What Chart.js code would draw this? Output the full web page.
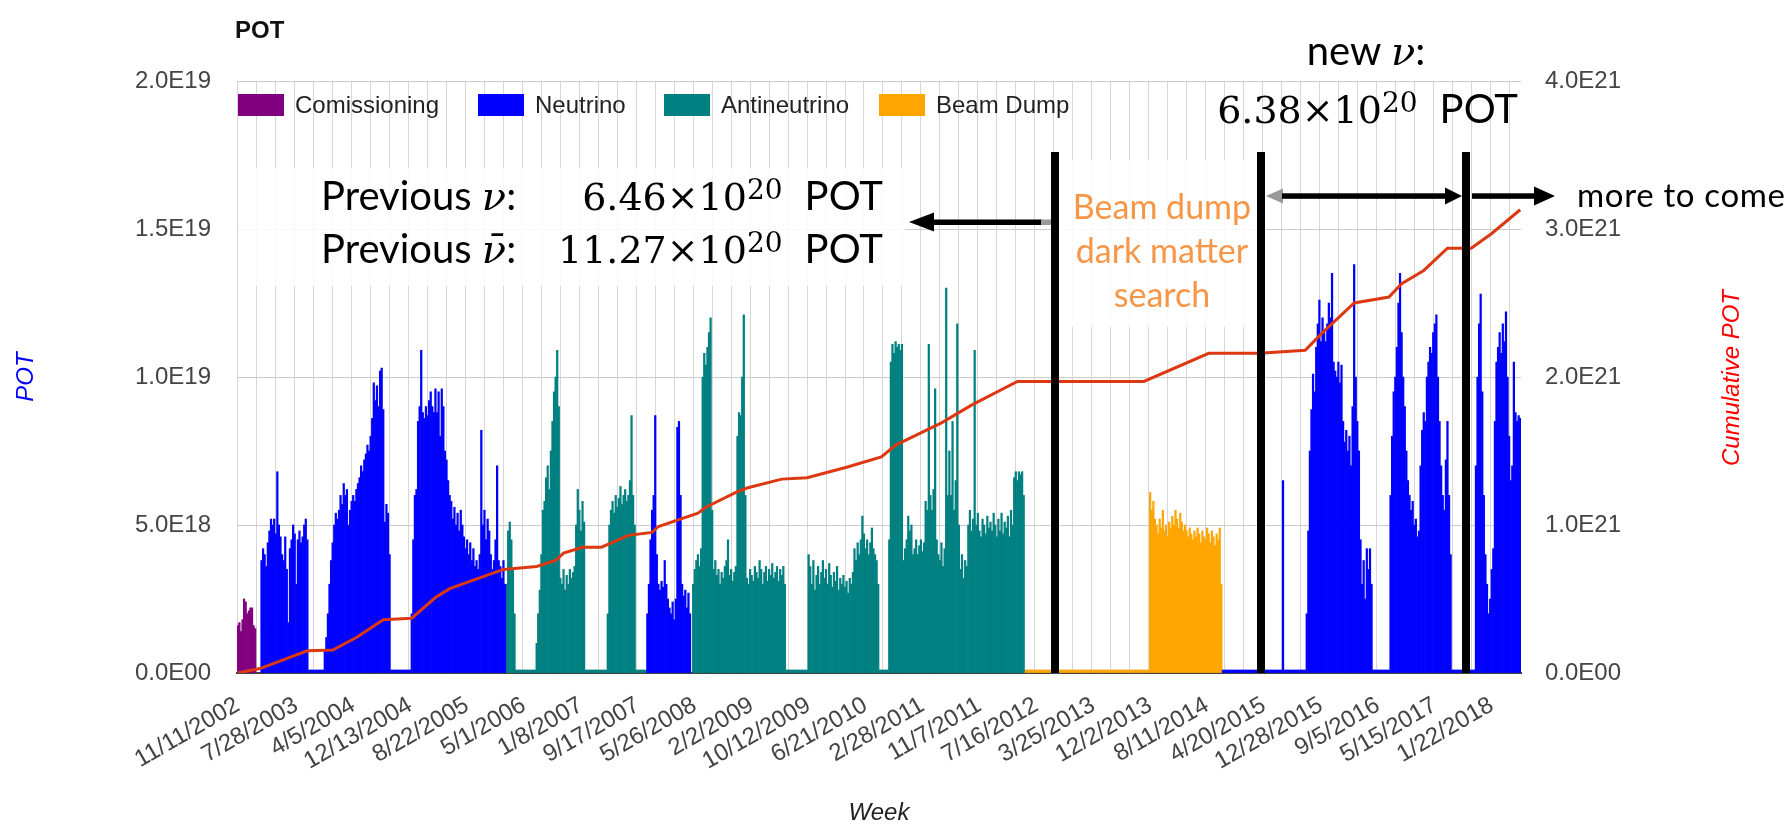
<!DOCTYPE html>
<html>
<head>
<meta charset="utf-8">
<script src="https://cdn.jsdelivr.net/npm/chart.js@4.4.1/dist/chart.umd.min.js"></script>
<style>
html,body{margin:0;padding:0;background:#ffffff;}
#wrap{position:relative;width:1792px;height:825px;overflow:hidden;}
#c{position:absolute;left:0;top:0;}
#ov{position:absolute;left:0;top:0;}
</style>
</head>
<body>
<div id="wrap">
<canvas id="c" width="1792" height="825"></canvas>
<svg id="ov" width="1792" height="825" xmlns="http://www.w3.org/2000/svg">
  <!-- top-left title -->
  <text x="235" y="38" font-family="'Liberation Sans', Arial, sans-serif" font-weight="bold" font-size="24" fill="#111">POT</text>

  <!-- translucent boxes behind annotations -->
  <rect x="238" y="168" width="667" height="118" fill="#ffffff" fill-opacity="0.86"/>
  <rect x="1059" y="160" width="198" height="167" fill="#ffffff" fill-opacity="0.86"/>

  <!-- vertical separators -->
  <rect x="1051" y="152" width="8" height="521" fill="#000"/>
  <rect x="1257" y="152" width="8" height="521" fill="#000"/>
  <rect x="1462" y="152" width="8" height="521" fill="#000"/>

  <!-- left arrow -->
  <rect x="928" y="219.5" width="114" height="5.5" fill="#000"/>
  <rect x="1041" y="219.5" width="10" height="5.5" fill="#999"/>
  <polygon points="909,222 934,212.5 934,231.5" fill="#000"/>

  <!-- middle double arrow -->
  <polygon points="1266,196 1283,188.5 1283,203.5" fill="#999"/>
  <rect x="1282" y="193.3" width="167" height="5.5" fill="#000"/>
  <polygon points="1462,196 1445,187.5 1445,204.5" fill="#000"/>

  <!-- right arrow -->
  <rect x="1472" y="193.3" width="65" height="5.5" fill="#000"/>
  <polygon points="1555,196 1534,186.5 1534,205.5" fill="#000"/>

  <!-- previous text -->
  <text x="321" y="210" font-family="Lato, sans-serif" font-size="40" fill="#000">Previous <tspan font-family="'DejaVu Serif', serif" font-style="italic">ν</tspan>:</text>
  <text x="883" y="210" text-anchor="end" font-family="'DejaVu Serif', serif" font-size="38" fill="#000">6.46×10<tspan dy="-11" font-size="28">20</tspan><tspan dy="11" dx="22" font-family="Lato, sans-serif" font-size="40">POT</tspan></text>
  <text x="321" y="263" font-family="Lato, sans-serif" font-size="40" fill="#000">Previous <tspan font-family="'DejaVu Serif', serif" font-style="italic">ν̄</tspan>:</text>
  <text x="883" y="263" text-anchor="end" font-family="'DejaVu Serif', serif" font-size="38" fill="#000">11.27×10<tspan dy="-11" font-size="28">20</tspan><tspan dy="11" dx="22" font-family="Lato, sans-serif" font-size="40">POT</tspan></text>

  <!-- beam dump text -->
  <text x="1162" y="219" text-anchor="middle" font-family="Lato, sans-serif" font-size="34" fill="#f79646">Beam dump</text>
  <text x="1162" y="263" text-anchor="middle" font-family="Lato, sans-serif" font-size="34" fill="#f79646">dark matter</text>
  <text x="1162" y="307" text-anchor="middle" font-family="Lato, sans-serif" font-size="34" fill="#f79646">search</text>

  <!-- new nu text -->
  <text x="1366" y="65" text-anchor="middle" font-family="Lato, sans-serif" font-size="40" fill="#000">new <tspan font-family="'DejaVu Serif', serif" font-style="italic">ν</tspan>:</text>
  <text x="1518" y="123" text-anchor="end" font-family="'DejaVu Serif', serif" font-size="38" fill="#000">6.38×10<tspan dy="-11" font-size="28">20</tspan><tspan dy="11" dx="22" font-family="Lato, sans-serif" font-size="40">POT</tspan></text>

  <text x="1577" y="207" font-family="Lato, sans-serif" font-size="33" textLength="208" lengthAdjust="spacing" fill="#000">more to come</text>

  <!-- right axis title -->
  <text transform="translate(1739,378) rotate(-90)" text-anchor="middle" font-family="'Liberation Sans', Arial, sans-serif" font-style="italic" font-size="24" fill="#ff0000">Cumulative POT</text>
</svg>
</div>
<script>
// ---------------- DATA ----------------
// weekly bins, week 0 = 11/11/2002; weekly POT in units of 1e17
const WEEK_COUNT = 812;
const tickWeeks = [0,37,73,109,145,181,217,253,289,325,361,397,433,469,505,541,577,613,649,685,721,757,793];
const tickLabels = ['11/11/2002','7/28/2003','4/5/2004','12/13/2004','8/22/2005','5/1/2006','1/8/2007','9/17/2007','5/26/2008','2/2/2009','10/12/2009','6/21/2010','2/28/2011','11/7/2011','7/16/2012','3/25/2013','12/2/2013','8/11/2014','4/20/2015','12/28/2015','9/5/2016','5/15/2017','1/22/2018'];
const yTickLabels = ['0.0E00','5.0E18','1.0E19','1.5E19','2.0E19'];   // left axis 0..200 (1e17)
const y2TickLabels = ['0.0E00','1.0E21','2.0E21','3.0E21','4.0E21']; // right axis 0..400 (1e19)

const seriesNames = ['Comissioning','Neutrino','Antineutrino','Beam Dump'];
const seriesColors = ['#800080','#0000ff','#008080','#ffa500'];

// [first week, weekly values]
const commissioningRuns = [
  [0,[16,17,14,18,25,24,20,21,22,22,16,15]]
];
const neutrinoRuns = [
  [15,[38,42,40,36,44,48,52,50,52,47,68,50,46,40,38,46,35,17,42,45,50,47,30,45,48,44,46,50,52,45]],
  [55,[8,12,20,30,38,44,50,54,52,55,60,57,64,60,62,50,55,58,60,58,62,64,66,70,68,72,74,77,75,80,86,98,92,97,90,102,103,89,51,57,54,40]],
  [110,[20,45,60,62,85,90,109,88,86,90,87,92,95,90,88,96,88,95,80,96,90,75,72,65,60,58,52,56,50,54,48,55,50,46,42,45,40,44,38,42,36,38,35,40,82,50,55,45,52,48,40,35,38,45,70,38,36,32,38,30]],
  [259,[20,30,45,55,60,87,40,30,28,31,29,38,30,25,22,20,24,18,25,83,85,60,30,26,28,22,27,20]],
  [661,[65]],
  [676,[20,48,75,89,101,95,110,118,126,112,120,115,112,118,125,120,135,105,102,100,105,98,104,85,78,82,75,80,70,90,138,100,85,75,45,30,38,25,42,35,42,30]],
  [729,[60,80,95,100,110,125,135,115,100,90,75,65,60,55,58,50,52,46,48,70,82,88,85,100,105,110,108,115,118,121,100,85,70,60,55,72,85,60,40]],
  [783,[70,100,118,128,95,60,40,30,20,25,35,42,85,105,110,115,108,118,112,122,100,80,65,70,105,88,85,87,86]]
];
const antineutrinoRuns = [
  [170,[30,48,51,45,35,20]],
  [189,[10,20,28,40,55,58,66,70,62,75,85,95,100,109,90,32,30,35,28,33,30,35,32,34,36,50,62,55,48,58,51]],
  [234,[20,50,55,58,54,60,56,59,63,57,60,62,58,60,65,87,60,50]],
  [288,[30,35,38,40,36,42,100,108,104,110,115,120,55,35,38,33,35,30,34,32,36,38,45,33,35,31,34,36,80,88,87,100,121,60,32,30,35,33,31,36,34,32,38,35,30,34,36,31,35,33,37,32,34,36,31,35,33,36,30]],
  [361,[40,36,30,38,28,33,36,30,34,38,32,35,30,37,33,29,34,31,36,28,32,30,33,29,31,27,32,30,34,42,38,44,40,45,53,47,42,45,40,44,49,42,40,38,30]],
  [412,[45,105,111,108,112,110,111,109,111,38,42,45,53,48,50,40,42,45,40,43,45,41,44,58,55,111,60,55,62,96,45,40,38,44,36,42,130,60,75,60,85,55,65,118,50,35,40,32,38,36,50,55,48,52,109,50,54,48,46,52,50,47,53,49,51,48,54,50,46,52,48,54,47,51,49,53,46,55,50,66,68,65,68,67,68,60]]
];
const beamDumpRuns = [
  [577,[61,55,58,52,50,47,52,49,55,48,50,46,51,49,53,50,55,52,49,54,51,48,50,48,46,49,47,45,48,46,49,47,44,48,46,45,49,47,44,48,46,43,47,45,49,30]]
];
// weeks with only a trace of beam (~1e17): [first, last]
const LOW_POT = 1;
const neutrinoLow = [[45,54],[97,109],[623,660],[662,675],[718,728],[768,782]];
const antineutrinoLow = [[176,188],[220,233],[252,258],[347,360],[406,411]];
const beamDumpLow = [[498,576]];

// cumulative POT (units of 1e19) read at these weeks
const cumWeeks = [0,14,44,60,75,92,110,125,134,168,189,201,206,218,230,247,262,266,291,296,315,322,344,360,385,407,416,445,464,493,573,614,646,675,686,706,728,736,750,765,780,793,811];
const cumPOT   = [0,3,15,15.5,24,36,37,51,57,70,72,76,81,85,85,93,95,99,108,112,122,125,131,132,139,146,154,169,181,197,197,216,216,218,230,250,254,263,272,287,287,297,313];

// layout constants (not data)
const legendBoxX = [238,478,664,879];
const FONT = "'Liberation Sans', Arial, Helvetica, sans-serif";

// ---------------- BUILD ----------------
function buildSeries(runs, lows) {
  const a = new Array(WEEK_COUNT).fill(null);
  runs.forEach(([s, vals]) => vals.forEach((v, i) => { a[s + i] = v; }));
  lows.forEach(([f, l]) => { for (let w = f; w <= l; w++) a[w] = LOW_POT; });
  return a;
}
const weekLabels = Array.from({length: WEEK_COUNT}, (_, i) => i);
const cumSeries = new Array(WEEK_COUNT).fill(null);
cumWeeks.forEach((w, i) => { cumSeries[w] = cumPOT[i]; });

const barSets = [
  buildSeries(commissioningRuns, []),
  buildSeries(neutrinoRuns, neutrinoLow),
  buildSeries(antineutrinoRuns, antineutrinoLow),
  buildSeries(beamDumpRuns, beamDumpLow)
];

const legendPlugin = {
  id: 'insideLegend',
  afterDatasetsDraw(chart) {
    const {ctx, chartArea} = chart;
    ctx.save();
    ctx.font = '24px ' + FONT;
    ctx.textBaseline = 'middle';
    ctx.textAlign = 'left';
    chart.data.datasets.filter(d => d.type !== 'line').forEach((d, i) => {
      const x = legendBoxX[i];
      ctx.fillStyle = d.backgroundColor;
      ctx.fillRect(x, chartArea.top + 13, 46, 22);
      ctx.fillStyle = '#222';
      ctx.fillText(d.label, x + 57, chartArea.top + 25);
    });
    ctx.restore();
  }
};

const datasets = [{
  type: 'line',
  label: 'Cumulative POT',
  data: cumSeries,
  yAxisID: 'y2',
  borderColor: '#dc3912',
  borderWidth: 3,
  pointRadius: 0,
  spanGaps: true,
  tension: 0,
  order: 0
}];
barSets.forEach((arr, i) => datasets.push({
  type: 'bar',
  label: seriesNames[i],
  data: arr,
  yAxisID: 'y',
  backgroundColor: seriesColors[i],
  borderWidth: 0,
  barPercentage: 1,
  categoryPercentage: 1,
  order: 1
}));

new Chart(document.getElementById('c').getContext('2d'), {
  type: 'bar',
  data: { labels: weekLabels, datasets },
  options: {
    responsive: false,
    animation: false,
    events: [],
    layout: { padding: { top: 81, left: 0, right: 0, bottom: 0 } },
    plugins: { legend: { display: false }, tooltip: { enabled: false } },
    scales: {
      x: {
        stacked: true,
        offset: true,
        grid: {
          offset: false,
          drawTicks: false,
          lineWidth: 1,
          color: (c) => (c.index % 12 === 0 ? '#d6d6d6' : 'rgba(0,0,0,0)')
        },
        border: { display: true, color: '#444', width: 2 },
        ticks: {
          autoSkip: false, minRotation: 30, maxRotation: 30, padding: 18,
          color: '#444', font: { family: FONT, size: 24 },
          callback: (v, i) => { const k = tickWeeks.indexOf(i); return k < 0 ? '' : tickLabels[k]; }
        },
        title: { display: true, text: 'Week', color: '#222', padding: 0,
                 font: { family: FONT, size: 24, style: 'italic', lineHeight: 1 } },
        afterFit: (s) => { s.height = 152; }
      },
      y: {
        stacked: true,
        position: 'left',
        min: 0, max: 200,
        grid: { color: '#cccccc', drawTicks: false },
        border: { display: false },
        ticks: { stepSize: 50, padding: 26, color: '#444', font: { family: FONT, size: 24 },
                 callback: (v) => yTickLabels[Math.round(v / 50)] },
        title: { display: true, text: 'POT', color: '#0000ff', padding: { top: 12, bottom: 0 },
                 font: { family: FONT, size: 24, style: 'italic' } },
        afterFit: (s) => { s.width = 237; }
      },
      y2: {
        position: 'right',
        min: 0, max: 400,
        grid: { drawOnChartArea: false, drawTicks: false },
        border: { display: false },
        ticks: { stepSize: 100, padding: 24, color: '#444', font: { family: FONT, size: 24 },
                 callback: (v) => y2TickLabels[Math.round(v / 100)] },
        afterFit: (s) => { s.width = 271; }
      }
    }
  },
  plugins: [legendPlugin]
});
</script>
</body>
</html>
